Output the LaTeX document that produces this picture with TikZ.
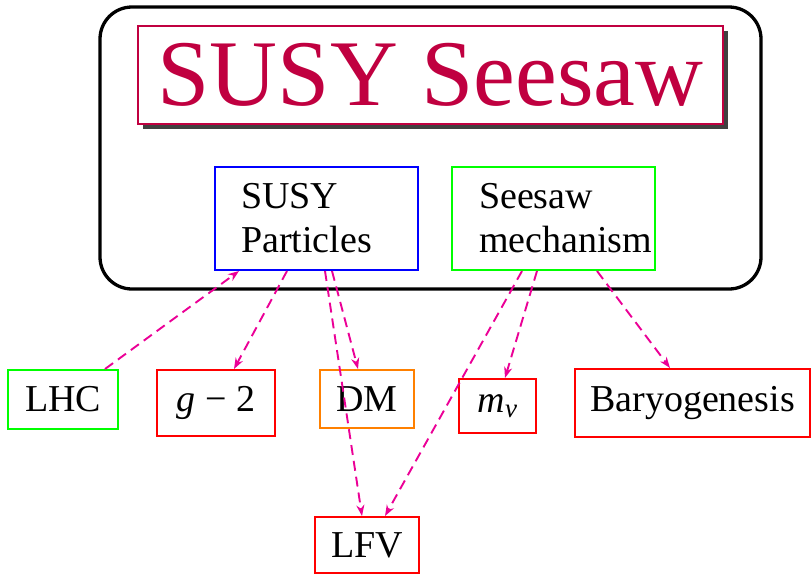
\documentclass[tikz,border=0pt]{standalone}
\usepackage{fontspec}
\setmainfont{Liberation Serif}
\usetikzlibrary{arrows.meta,shadows}
\definecolor{titlered}{RGB}{192,0,64}
\definecolor{arrowpink}{RGB}{235,0,150}
\definecolor{boxorange}{RGB}{255,128,0}
\begin{document}
\begin{tikzpicture}[x=1pt,y=-1pt,
  every node/.style={font=\fontsize{38}{44}\selectfont},
  boxnode/.style={draw, line width=2pt, inner sep=0pt, fill=white},
  link/.style={draw=arrowpink, line width=1.9pt, dash pattern=on 10pt off 6pt,
    -{Stealth[length=11pt,width=8pt,inset=3.5pt]}},
]
\useasboundingbox (0,0) rectangle (811,574);
\node[draw, line width=3.3pt, rounded corners=32pt, minimum width=661pt,
  minimum height=282pt, inner sep=0pt] (outer) at (430.5,148) {};
\node[draw=titlered, line width=1.5pt, fill=white, text=titlered,
  minimum width=585pt, minimum height=98pt, inner sep=0pt,
  font=\fontsize{94}{100}\selectfont,
  drop shadow={shadow xshift=5pt, shadow yshift=-5pt, fill=black!75, opacity=1}]
  (title) at (430.5,75) {SUSY Seesaw};
\node[boxnode, draw=blue, minimum width=203pt, minimum height=103pt,
  text width=151pt, align=left] (susy) at (316.5,218.5) {SUSY\\Particles};
\node[boxnode, draw=green, minimum width=203pt, minimum height=103pt,
  text width=149pt, align=left] (seesaw) at (553.5,218.5) {Seesaw\\\mbox{mechanism}};
\node[boxnode, draw=green, minimum width=110pt, minimum height=59pt] (lhc) at (63,399.5) {LHC};
\node[boxnode, draw=red, minimum width=118pt, minimum height=66pt] (gtwo) at (216,403) {\textit{g} − 2};
\node[boxnode, draw=boxorange, minimum width=94pt, minimum height=58pt] (dm) at (367,399) {DM};
\node[boxnode, draw=red, minimum width=77pt, minimum height=54pt] (mnu) at (497.5,406) {\textit{m}\raisebox{-0.3ex}{\fontsize{27}{30}\selectfont\textit{ν}}};
\node[boxnode, draw=red, minimum width=235pt, minimum height=68pt] (baryo) at (692.5,403) {Baryogenesis};
\node[boxnode, draw=red, minimum width=104pt, minimum height=56pt] (lfv) at (367,545) {LFV};
\draw[link] ([xshift=42pt]lhc.north) -- ([xshift=-77.5pt]susy.south);
\draw[link] ([xshift=-29.5pt]susy.south) -- ([xshift=18pt]gtwo.north);
\draw[link] ([xshift=15.5pt]susy.south) -- ([xshift=-9pt]dm.north);
\draw[link] ([xshift=8.5pt]susy.south) -- ([xshift=-5pt]lfv.north);
\draw[link] ([xshift=-31.5pt]seesaw.south) -- ([xshift=18pt]lfv.north);
\draw[link] ([xshift=-16.5pt]seesaw.south) -- ([xshift=7.5pt]mnu.north);
\draw[link] ([xshift=43.5pt]seesaw.south) -- ([xshift=-22.5pt]baryo.north);
\end{tikzpicture}
\end{document}
